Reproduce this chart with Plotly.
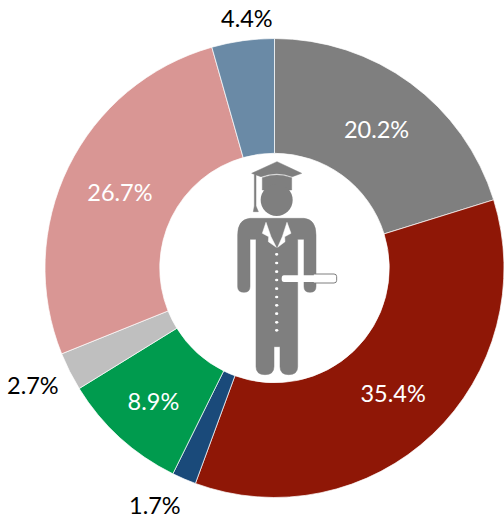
import plotly.graph_objects as go

W, H = 504, 519
shares = [20.2, 35.4, 1.7, 8.9, 2.7, 26.7, 4.4]
labels = ["A", "B", "C", "D", "E", "F", "G"]
slice_colors = ["#7f7f7f", "#8f1706", "#1a4a7a", "#009b4e", "#bfbfbf", "#d99694", "#6a8aa6"]
texts = [f"{v}%" for v in shares]
FONT = "Lato"
FS = 23.5
ICON = "#7f7f7f"
# small slices carry their label outside the ring: slice index -> pixel centre of label
outside_labels = {2: (155, 505), 4: (33, 385), 6: (247, 18)}
inside_texts = ["" if i in outside_labels else t for i, t in enumerate(texts)]


def P(zx, zy):
    return (200 + zx / 3) / W, 1 - (140 + zy / 3) / H


def path(points):
    # a point is (x, y) for a straight piece or (cx, cy, x, y) for a curved one
    s = ""
    for i, p in enumerate(points):
        if len(p) == 2:
            x, y = P(*p)
            s += ("M" if i == 0 else "L") + f"{x:.5f},{y:.5f} "
        else:
            cx, cy = P(p[0], p[1])
            x, y = P(p[2], p[3])
            s += f"Q{cx:.5f},{cy:.5f} {x:.5f},{y:.5f} "
    return s + "Z"


def poly(points, color=ICON):
    return dict(type="path", xref="paper", yref="paper", path=path(points),
                fillcolor=color, line=dict(color=color, width=0.5))


def oval(x0, y0, x1, y1, color=ICON):
    a, b = P(x0, y0)
    c, d = P(x1, y1)
    return dict(type="circle", xref="paper", yref="paper", x0=a, y0=b, x1=c, y1=d,
                fillcolor=color, line=dict(color=color, width=0))


def diploma_part(points, color, line=None):
    d = poly(points, color)
    d["line"] = dict(color=line or color, width=1 if line else 0)
    return d


shapes = [
    # cap
    poly([(231, 65), (305, 100), (277, 110), (230, 92, 183, 110), (155, 100)]),
    poly([(187, 113), (230, 97, 275, 113), (275, 150), (187, 150)]),
    # tassel
    poly([(163, 104), (168, 102), (168, 198), (175, 215), (160, 215), (163, 198)]),
    # head
    oval(182, 132, 278, 228),
    # shoulders, arms, gown and legs
    poly([(150, 235), (312, 235), (348, 238, 348, 285), (348, 440), (348, 457, 330, 457),
          (312, 457, 312, 440), (312, 298), (293, 298), (293, 680), (293, 704, 266, 704),
          (240, 704, 240, 680), (240, 620), (222, 620), (222, 680), (222, 704, 195, 704),
          (168, 704, 168, 680), (168, 298), (150, 298), (150, 440), (150, 457, 132, 457),
          (113, 457, 113, 440), (113, 285), (113, 238, 150, 235)]),
    # lapels
    poly([(198, 247), (187, 280), (206, 290), (205, 305), (229, 322), (213, 290)], "white"),
    poly([(261, 247), (273, 280), (254, 290), (255, 305), (233, 322), (247, 290)], "white"),
]
for by in [343, 369, 395, 420, 446, 471, 496, 521, 547, 571]:
    shapes.append(oval(225, by - 4, 235, by + 4, "white"))
# diploma
shapes.append(diploma_part([(340, 402), (402, 402), (410, 402, 410, 410), (410, 421),
                            (410, 429, 402, 429), (340, 429)], "white", ICON))
shapes.append(diploma_part([(252, 406), (350, 406), (350, 426), (252, 426),
                            (245, 426, 245, 416), (245, 406, 252, 406)], "white"))

annotations = [
    dict(x=px / W, y=1 - py / H, xref="paper", yref="paper", text=texts[i], showarrow=False,
         xanchor="center", yanchor="middle", font=dict(family=FONT, size=FS, color="black"))
    for i, (px, py) in outside_labels.items()
]

fig = go.Figure(go.Pie(
    labels=labels, values=shares, text=inside_texts, textinfo="text", hoverinfo="label+value",
    sort=False, direction="clockwise", rotation=0, hole=0.5,
    marker=dict(colors=slice_colors, line=dict(color="white", width=0.7)),
    textposition="inside",
    insidetextorientation="horizontal",
    textfont=dict(family=FONT, size=FS, color="white"),
    domain=dict(x=[45 / W, 1], y=[(H - 498) / H, (H - 38) / H]),
    showlegend=False,
))
fig.update_layout(width=W, height=H, margin=dict(l=0, r=0, t=0, b=0),
                  paper_bgcolor="white", plot_bgcolor="white", shapes=shapes,
                  annotations=annotations, font=dict(family=FONT))
fig.write_html("out.html", config=dict(displayModeBar=False),
               post_script="document.body.style.margin='0';document.documentElement.style.overflow='hidden';")
